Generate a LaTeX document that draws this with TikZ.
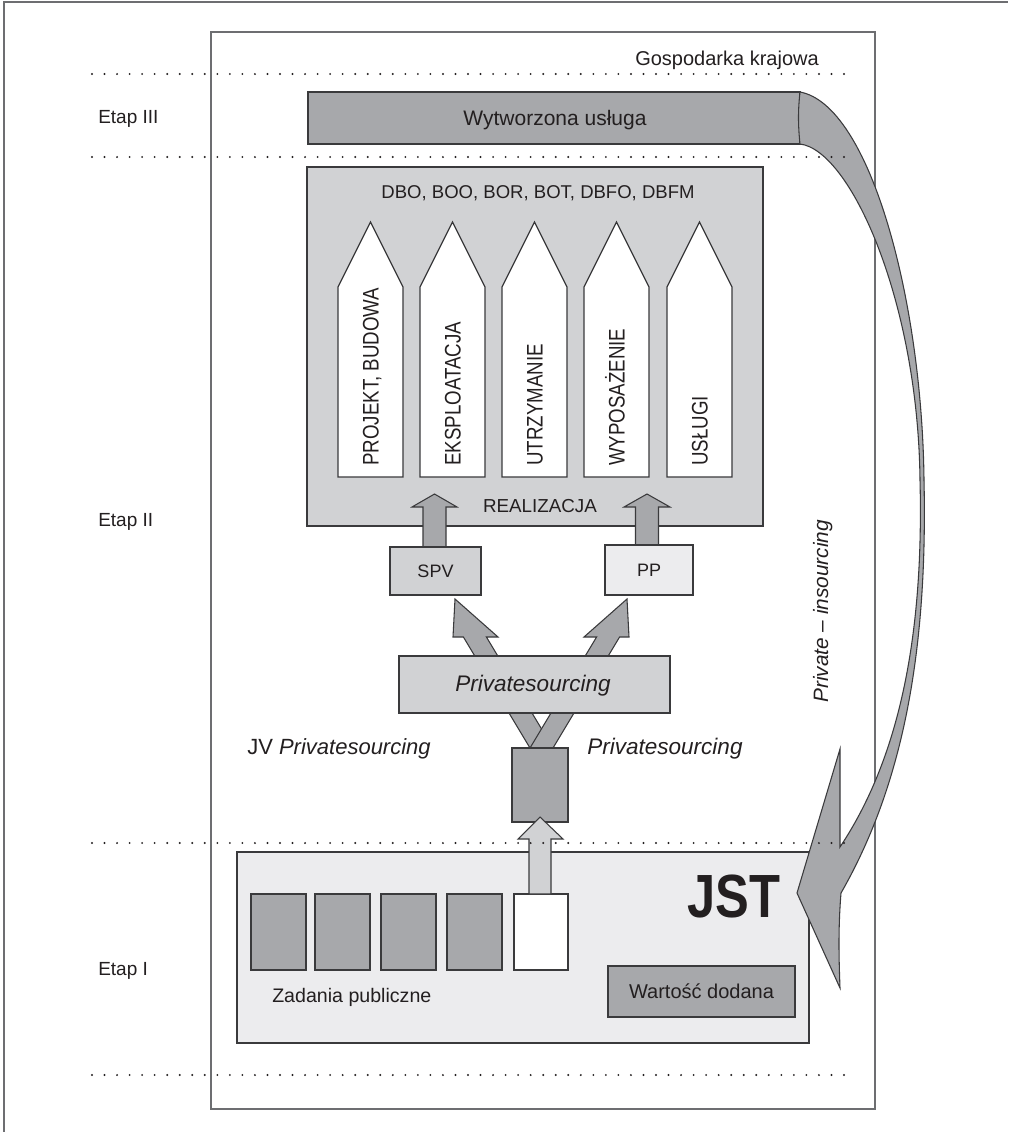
\documentclass[tikz,border=0pt]{standalone}
\usepackage{fontspec}
\setmainfont{Liberation Sans}
\newfontfamily\condfont[FakeStretch=0.83]{Liberation Sans}
\usetikzlibrary{fit}
\definecolor{gdark}{HTML}{A7A8AB}
\definecolor{gmid}{HTML}{D1D2D4}
\definecolor{glight}{HTML}{ECECEE}
\definecolor{ink}{HTML}{231F20}
\definecolor{edgec}{HTML}{3A3A3C}
\definecolor{framec}{HTML}{6D6E71}
\newcommand\fsz[1]{\fontsize{#1}{#1}\selectfont}
\begin{document}
\begin{tikzpicture}[x=0.75pt,y=-0.75pt,
  box/.style={draw=edgec,line width=0.9pt,inner sep=0pt,outer sep=0pt},
  fatarrow/.style={draw=edgec,line width=0.8pt,line join=miter},
  dotline/.style={ink,line width=1.6pt,line cap=round,dash pattern=on 0pt off 9.4pt},
  lbl/.style={text=ink,inner sep=0pt},
  vtext/.style={lbl,rotate=90,anchor=west,font=\condfont\fsz{16.9pt},text height=12.1pt,text depth=0pt}]
\useasboundingbox (0,0) rectangle (1008,1132);
\fill[white] (0,0) rectangle (1008,1132);
% outer frame
\draw[framec,line width=1.2pt] (4,1132) -- (4,2) -- (1008,2);
\node[box,draw=framec,line width=1.4pt,fit={(211,32)(875,1109)}] (frm) {};
% JST box
\node[box,fill=glight,fit={(237,852)(809,1043)}] (jst) {};
\foreach \i/\L in {1/251,2/315,3/381,4/447}{
  \node[box,fill=gdark,fit={(\L,894)({\L+55},970)}] (z\i) {};
}
\node[box,fill=white,fit={(514,894)(568,970)}] (z5) {};
\node[box,fill=gdark,fit={(608,966)(795,1017)}] (wart) {};
% stage III box
\node[box,fill=gdark,fit={(308,92)(800,144)}] (wyt) {};
% stage II main box
\node[box,fill=gmid,fit={(307,167)(763,526)}] (dbo) {};
\foreach \i/\L in {1/338,2/420,3/502,4/584,5/667}{
  \draw[box,fill=white] (\L,477) -- (\L,287) -- ({\L+32.5},222) -- ({\L+65},287) -- ({\L+65},477) -- cycle;
}
\foreach \L/\t in {338/{PROJEKT, BUDOWA},420/{EKSPLOATACJA},502/{UTRZYMANIE},584/{WYPOSAŻENIE},667/{USŁUGI}}{
  \node[vtext] at ({\L+32.5},466) {\t};
}
% arrows into main box
\draw[fatarrow,fill=gdark] (423,547) -- (423,507) -- (412,507) -- (434.5,494) -- (457,507) -- (446,507) -- (446,547) -- cycle;
\draw[fatarrow,fill=gdark] (635.5,547) -- (635.5,507) -- (624,507) -- (647,494) -- (670,507) -- (658.5,507) -- (658.5,547) -- cycle;
\node[box,fill=gmid,fit={(390,547)(481,595)}] (spv) {};
\node[box,fill=glight,fit={(605,545)(693,595)}] (pp) {};
% diagonal arrows
\draw[fatarrow,fill=gdark] (530,748) -- (463.4,637) -- (453,637) -- (455,599) -- (498,637) -- (486.4,637) -- (553,748) -- cycle;
\draw[fatarrow,fill=gdark] (553,748) -- (619.6,637) -- (629,637) -- (627,599) -- (584,637) -- (596.6,637) -- (530,748) -- cycle;
\node[box,fill=gmid,fit={(399,656)(670,713)}] (priv) {};
\node[box,fill=gdark,fit={(512,748)(568,822)}] (small) {};
% light arrow from public task
\draw[fatarrow,fill=gmid] (529,894) -- (529,839) -- (518,839) -- (540,817) -- (563,839) -- (551,839) -- (551,894) -- cycle;
% curved insourcing arrow
\draw[fatarrow,fill=gdark] (800,92) .. controls (870,105) and (922,300) .. (924,480)
  .. controls (928,660) and (900,790) .. (841,893) .. controls (838,930) and (839,960) .. (840,988) -- (797,893)
  -- (840,749) -- (840,847) .. controls (898,760) and (924,640) .. (920,480)
  .. controls (918,300) and (850,150) .. (800,144) .. controls (798,125) and (798,110) .. cycle;
% dotted stage lines
\foreach \y in {74,157,843,1075}{
  \draw[dotline] (92,\y) -- (850,\y);
}
% texts
\node[lbl,font=\fsz{15pt},anchor=base east] (gosp) at (819,65) {Gospodarka krajowa};
\node[lbl,font=\fsz{14.25pt},anchor=base west] (e3) at (98,123) {Etap III};
\node[lbl,font=\fsz{14.25pt},anchor=base west] (e2) at (98,526) {Etap II};
\node[lbl,font=\fsz{14.25pt},anchor=base west] (e1) at (98,975) {Etap I};
\node[lbl,font=\fsz{15.75pt},anchor=base] (wytt) at (555,125.5) {Wytworzona usługa};
\node[lbl,font=\fsz{13.9pt},anchor=base] (dbot) at (538,198) {DBO, BOO, BOR, BOT, DBFO, DBFM};
\node[lbl,font=\fsz{14.1pt},anchor=base] (real) at (540,512) {REALIZACJA};
\node[lbl,font=\fsz{13.5pt},anchor=base] (spvt) at (435.5,577.5) {SPV};
\node[lbl,font=\fsz{13.5pt},anchor=base] (ppt) at (649,576.5) {PP};
\node[lbl,font=\fsz{16.9pt}\itshape,anchor=base] (privt) at (533,691) {Privatesourcing};
\node[lbl,font=\fsz{16.5pt},anchor=base west] (jv) at (247,754) {JV \textit{Privatesourcing}};
\node[lbl,font=\fsz{16.9pt}\itshape,anchor=base west] (privr) at (587,754) {Privatesourcing};
\node[lbl,font=\fsz{15.6pt}\itshape,rotate=90,anchor=base west] (ins) at (828,703) {Private – insourcing};
\node[lbl,font=\condfont\bfseries\fsz{45.75pt},anchor=base] (jstt) at (733.5,917) {JST};
\node[lbl,font=\fsz{15pt},anchor=base] (wartt) at (701.5,998.5) {Wartość dodana};
\node[lbl,font=\fsz{14.7pt},anchor=base west] (zad) at (272,1002) {Zadania publiczne};
\end{tikzpicture}
\end{document}
